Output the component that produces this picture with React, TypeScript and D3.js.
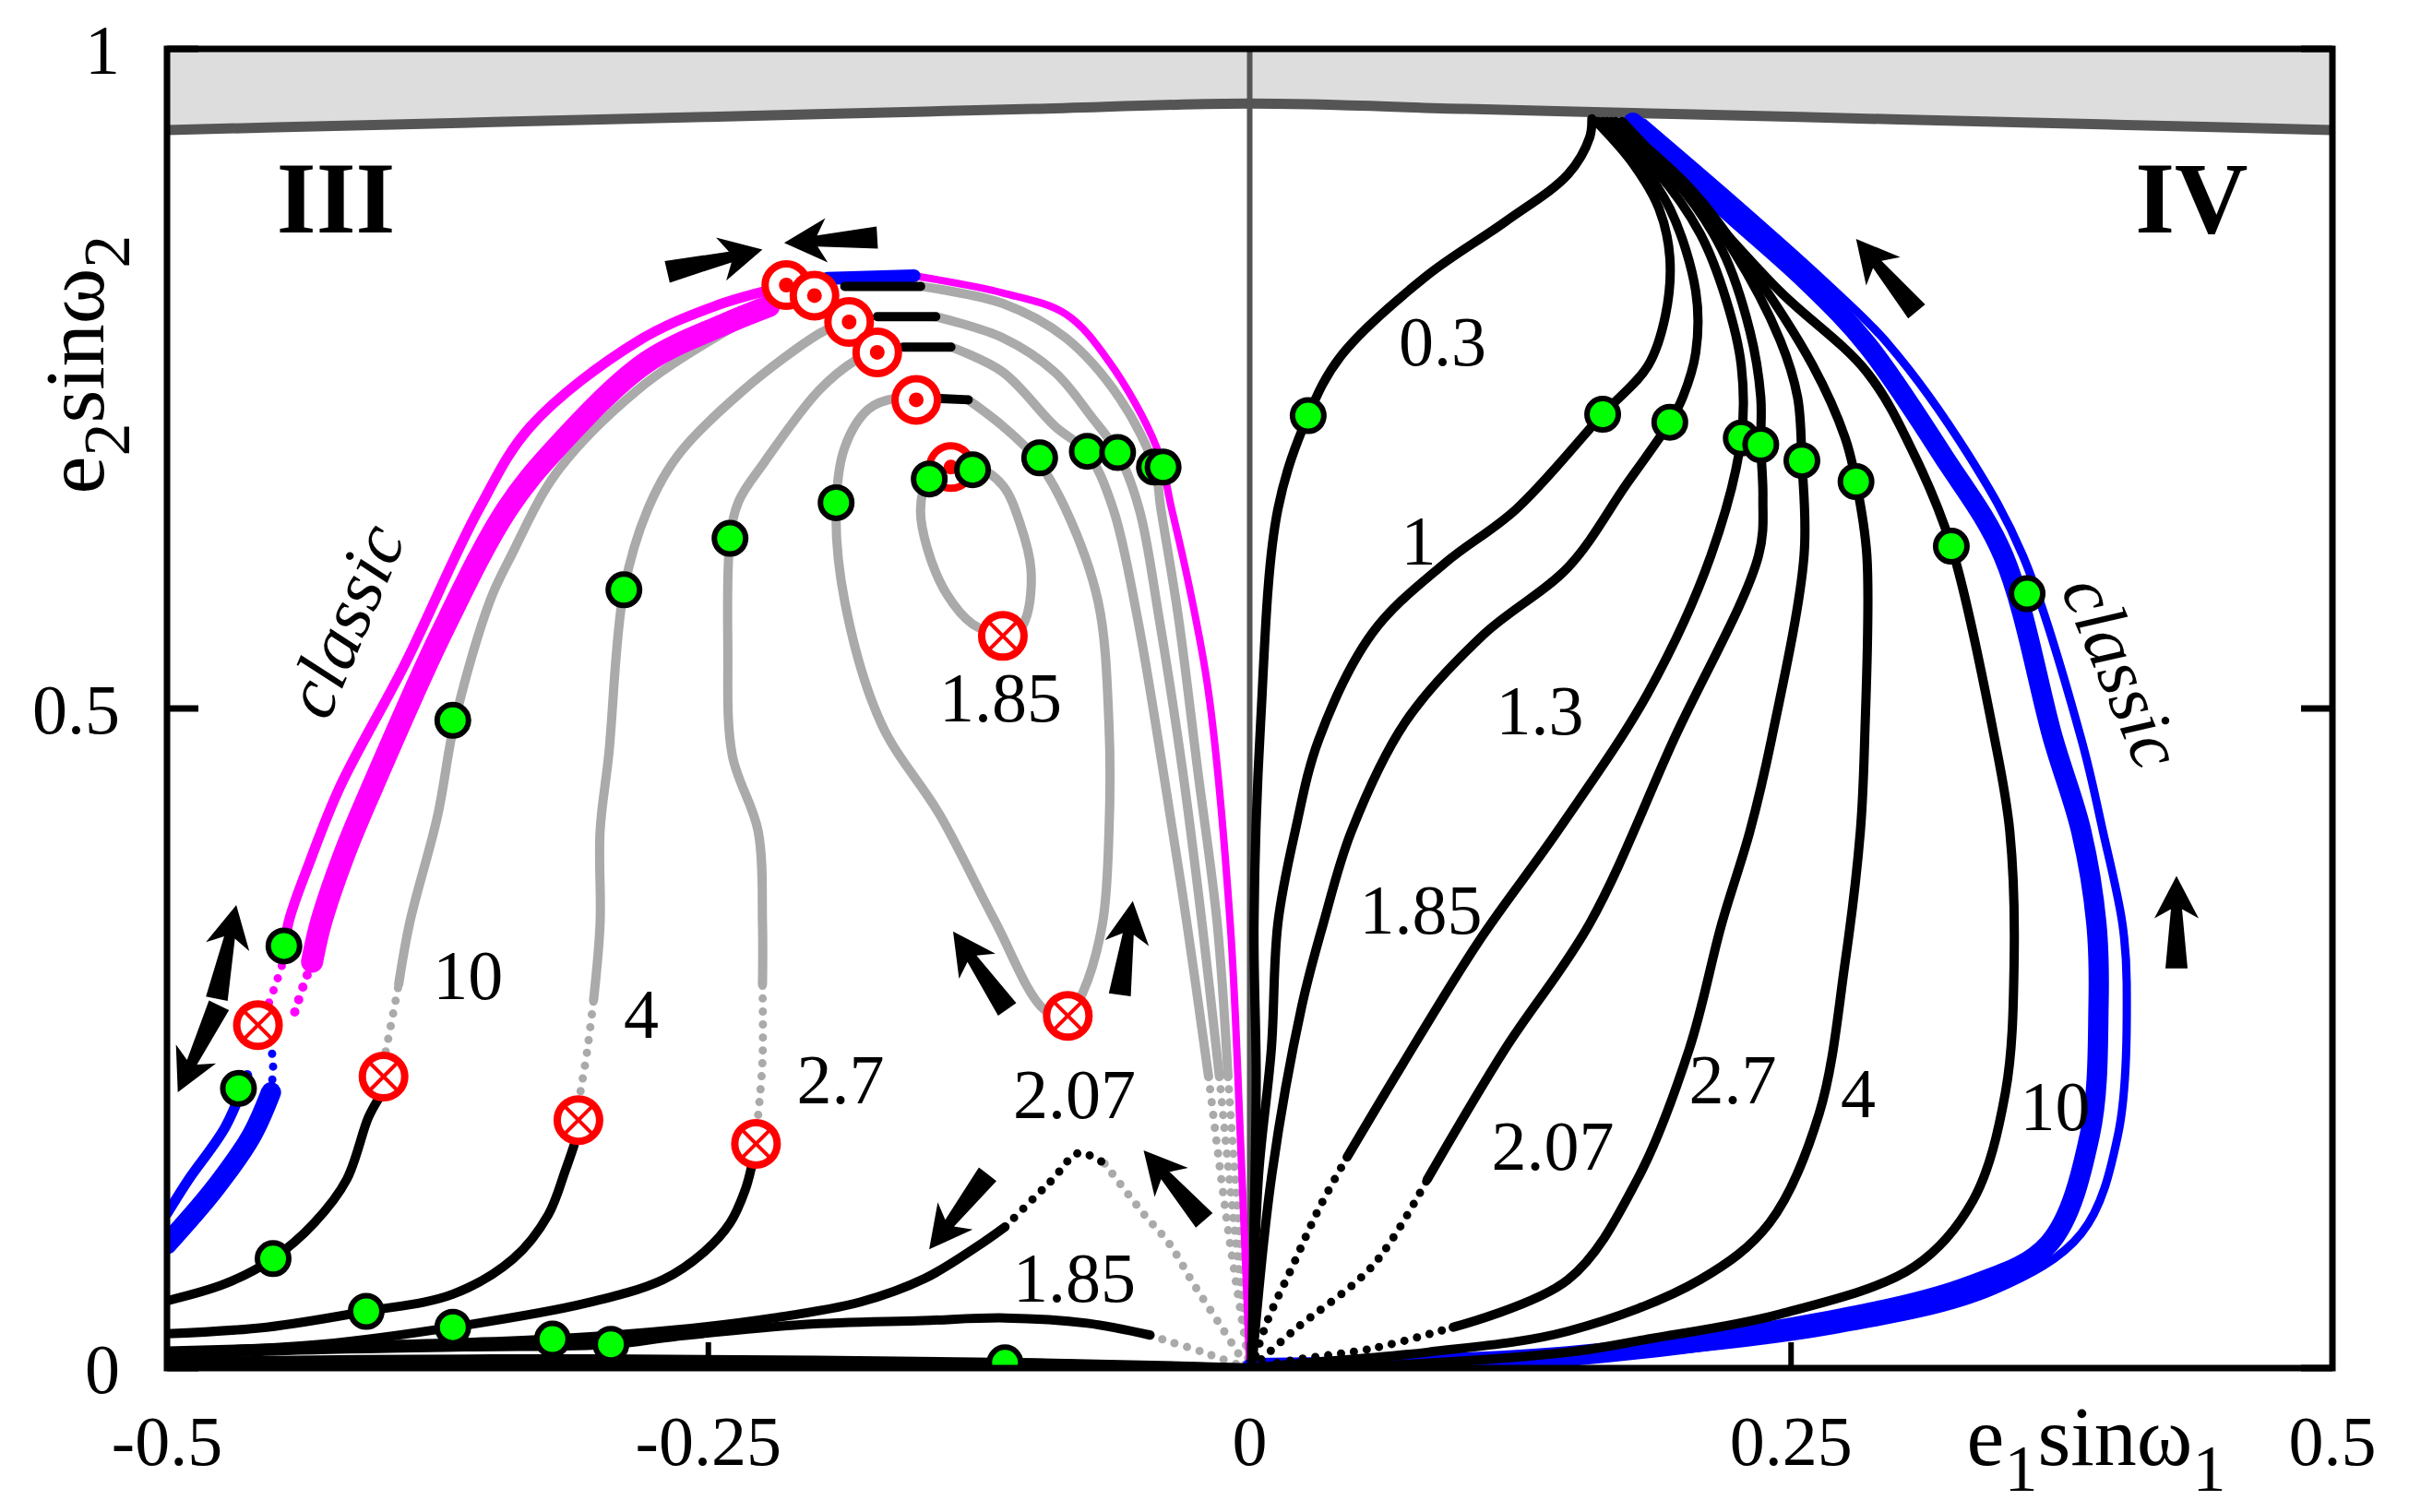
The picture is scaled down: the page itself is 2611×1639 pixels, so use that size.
import React from "react";
import * as d3 from "d3";

type Pt = [number, number];

// axes
const xTicks = [-0.5, -0.25, 0, 0.25, 0.5];
const xTickText = ["-0.5", "-0.25", "0", "0.25", "0.5"];
const yTicks = [0, 0.5, 1];
const yTickText = ["0", "0.5", "1"];

// upper limit of the domain (shaded above)
const boundary: Pt[] = [[-0.5, 0.9385], [-0.4, 0.9425], [-0.3, 0.9465], [-0.2, 0.9505], [-0.1, 0.9545], [0, 0.9585], [0.1, 0.9545], [0.2, 0.9505], [0.3, 0.9465], [0.4, 0.9425], [0.5, 0.9385]];

// ---- quadrant IV, black curves
const r03: Pt[] = [[0.001, 0], [0.002, 0.105], [0.003, 0.221], [0.002, 0.337], [0.005, 0.488], [0.013, 0.651], [0.027, 0.722], [0.042, 0.767], [0.081, 0.827], [0.118, 0.869], [0.147, 0.905], [0.157, 0.933], [0.158, 0.947]];
const r1: Pt[] = [[0.001, 0], [0.004, 0.144], [0.010, 0.242], [0.013, 0.337], [0.021, 0.407], [0.032, 0.477], [0.057, 0.558], [0.090, 0.610], [0.123, 0.651], [0.163, 0.723], [0.184, 0.760], [0.192, 0.798], [0.194, 0.842], [0.189, 0.879], [0.177, 0.913], [0.160, 0.945]];
const r13: Pt[] = [[0.001, 0], [0.010, 0.144], [0.024, 0.274], [0.034, 0.337], [0.047, 0.407], [0.072, 0.490], [0.108, 0.556], [0.147, 0.607], [0.174, 0.670], [0.194, 0.717], [0.200, 0.736], [0.206, 0.770], [0.206, 0.816], [0.194, 0.879], [0.176, 0.922], [0.161, 0.945]];
const r185: Pt[] = [[0.045, 0.160], [0.069, 0.226], [0.106, 0.324], [0.143, 0.409], [0.184, 0.512], [0.213, 0.616], [0.227, 0.705], [0.227, 0.760], [0.220, 0.810], [0.208, 0.860], [0.188, 0.907], [0.163, 0.945]];
const r185dots: Pt[] = [[0.001, 0], [0.008, 0.035], [0.020, 0.078], [0.032, 0.121], [0.045, 0.160]];
const r207: Pt[] = [[0.082, 0.143], [0.118, 0.242], [0.157, 0.337], [0.196, 0.477], [0.235, 0.616], [0.237, 0.660], [0.236, 0.700], [0.236, 0.736], [0.231, 0.786], [0.218, 0.848], [0.196, 0.901], [0.165, 0.945]];
const r207dots: Pt[] = [[0.001, 0], [0.020, 0.028], [0.057, 0.078], [0.082, 0.143]];
const r27: Pt[] = [[0.094, 0.031], [0.147, 0.067], [0.179, 0.143], [0.203, 0.242], [0.218, 0.337], [0.231, 0.407], [0.241, 0.477], [0.256, 0.616], [0.255, 0.688], [0.253, 0.736], [0.245, 0.779], [0.223, 0.848], [0.199, 0.901], [0.167, 0.945]];
const r27dots: Pt[] = [[0.001, 0], [0.020, 0.006], [0.057, 0.015], [0.094, 0.031]];
const r4: Pt[] = [[0.001, 0], [0.020, 0.003], [0.082, 0.012], [0.147, 0.028], [0.208, 0.067], [0.240, 0.110], [0.263, 0.193], [0.275, 0.308], [0.282, 0.407], [0.284, 0.477], [0.285, 0.616], [0.280, 0.672], [0.275, 0.705], [0.260, 0.760], [0.228, 0.842], [0.203, 0.895], [0.169, 0.945]];
const r10: Pt[] = [[0.001, 0], [0.061, 0.002], [0.147, 0.012], [0.184, 0.022], [0.245, 0.041], [0.307, 0.077], [0.334, 0.127], [0.349, 0.209], [0.353, 0.308], [0.351, 0.407], [0.344, 0.477], [0.324, 0.623], [0.307, 0.692], [0.285, 0.755], [0.245, 0.816], [0.210, 0.878], [0.172, 0.945]];
// classic, blue band (IV)
const blueInR: Pt[] = [[0.001, 0], [0.061, 0.002], [0.147, 0.009], [0.258, 0.033], [0.332, 0.062], [0.369, 0.094], [0.388, 0.177], [0.392, 0.276], [0.391, 0.337], [0.384, 0.407], [0.371, 0.477], [0.348, 0.616], [0.320, 0.692], [0.285, 0.776], [0.258, 0.823], [0.220, 0.879], [0.177, 0.944]];
const blueOutR: Pt[] = [[0.001, 0], [0.147, 0.007], [0.270, 0.029], [0.344, 0.059], [0.384, 0.102], [0.401, 0.177], [0.405, 0.292], [0.403, 0.337], [0.394, 0.407], [0.384, 0.477], [0.357, 0.616], [0.332, 0.692], [0.295, 0.776], [0.266, 0.823], [0.228, 0.879], [0.182, 0.944]];

// ---- quadrant III
const g10: Pt[] = [[-0.393, 0.291], [-0.388, 0.337], [-0.375, 0.419], [-0.367, 0.491], [-0.351, 0.581], [-0.341, 0.616], [-0.320, 0.679], [-0.283, 0.741], [-0.247, 0.781], [-0.218, 0.807]];
const g10dots: Pt[] = [[-0.399, 0.240], [-0.396, 0.265], [-0.393, 0.291]];
const b10: Pt[] = [[-0.402, 0.205], [-0.407, 0.190], [-0.417, 0.143], [-0.432, 0.110], [-0.451, 0.083], [-0.473, 0.064], [-0.5, 0.051]];
const g4: Pt[] = [[-0.303, 0.279], [-0.300, 0.337], [-0.300, 0.407], [-0.296, 0.465], [-0.289, 0.590], [-0.278, 0.651], [-0.264, 0.692], [-0.234, 0.741], [-0.199, 0.784], [-0.190, 0.791]];
const g4dots: Pt[] = [[-0.309, 0.210], [-0.306, 0.240], [-0.303, 0.279]];
const b4: Pt[] = [[-0.312, 0.169], [-0.316, 0.150], [-0.324, 0.116], [-0.340, 0.083], [-0.368, 0.056], [-0.408, 0.043], [-0.454, 0.031], [-0.5, 0.026]];
const g27: Pt[] = [[-0.225, 0.291], [-0.225, 0.337], [-0.227, 0.407], [-0.239, 0.465], [-0.241, 0.547], [-0.240, 0.628], [-0.236, 0.657], [-0.224, 0.687], [-0.199, 0.741], [-0.182, 0.764], [-0.175, 0.769]];
const g27dots: Pt[] = [[-0.227, 0.192], [-0.225, 0.233], [-0.225, 0.291]];
const b27: Pt[] = [[-0.230, 0.153], [-0.233, 0.135], [-0.240, 0.110], [-0.252, 0.088], [-0.271, 0.067], [-0.307, 0.049], [-0.368, 0.031], [-0.429, 0.018], [-0.5, 0.012]];
const b207seg: Pt[] = [[-0.143, 0.735], [-0.130, 0.734]];
const g207: Pt[] = [[-0.130, 0.734], [-0.114, 0.714], [-0.099, 0.690], [-0.085, 0.651], [-0.070, 0.581], [-0.065, 0.488], [-0.065, 0.406], [-0.068, 0.337], [-0.077, 0.285], [-0.084, 0.267], [-0.095, 0.272], [-0.118, 0.340], [-0.143, 0.419], [-0.170, 0.488], [-0.187, 0.581], [-0.191, 0.651], [-0.187, 0.698], [-0.176, 0.727], [-0.164, 0.735], [-0.154, 0.734]];
const g185loop: Pt[] = [[-0.114, 0.555], [-0.128, 0.564], [-0.140, 0.587], [-0.149, 0.622], [-0.152, 0.651], [-0.149, 0.672], [-0.138, 0.684], [-0.126, 0.683], [-0.114, 0.669], [-0.106, 0.640], [-0.101, 0.605], [-0.103, 0.570], [-0.108, 0.556], [-0.114, 0.555]];
const bA: Pt[] = [[-0.187, 0.820], [-0.152, 0.820]];
const gA: Pt[] = [[-0.152, 0.820], [-0.114, 0.807], [-0.085, 0.781], [-0.060, 0.735], [-0.044, 0.683], [-0.041, 0.651], [-0.033, 0.570], [-0.024, 0.453], [-0.015, 0.337], [-0.010, 0.221]];
const gAdots: Pt[] = [[-0.010, 0.221], [-0.005, 0.105], [0, 0]];
const bB: Pt[] = [[-0.172, 0.797], [-0.145, 0.797]];
const gB: Pt[] = [[-0.145, 0.797], [-0.114, 0.781], [-0.090, 0.755], [-0.073, 0.721], [-0.061, 0.694], [-0.051, 0.651], [-0.042, 0.570], [-0.031, 0.453], [-0.022, 0.337], [-0.014, 0.221]];
const gBdots: Pt[] = [[-0.014, 0.221], [-0.007, 0.105], [0, 0]];
const bC: Pt[] = [[-0.160, 0.774], [-0.138, 0.774]];
const gC: Pt[] = [[-0.138, 0.774], [-0.114, 0.755], [-0.090, 0.714], [-0.075, 0.694], [-0.063, 0.651], [-0.052, 0.570], [-0.040, 0.453], [-0.029, 0.337], [-0.019, 0.221]];
const gCdots: Pt[] = [[-0.019, 0.221], [-0.010, 0.105], [0, 0]];
const b207low: Pt[] = [[-0.5, 0.013], [-0.434, 0.016], [-0.322, 0.022], [-0.265, 0.029], [-0.220, 0.038], [-0.180, 0.050], [-0.150, 0.068], [-0.126, 0.092], [-0.113, 0.107]];
const b207dots: Pt[] = [[-0.113, 0.107], [-0.099, 0.130], [-0.091, 0.143], [-0.079, 0.163], [-0.067, 0.155]];
const g207dots: Pt[] = [[-0.067, 0.155], [-0.049, 0.117], [-0.037, 0.094], [-0.026, 0.064], [-0.013, 0.031], [-0.001, 0]];
const b185low: Pt[] = [[-0.5, 0.009], [-0.450, 0.013], [-0.363, 0.016], [-0.295, 0.018], [-0.265, 0.024], [-0.206, 0.033], [-0.151, 0.036], [-0.113, 0.038], [-0.075, 0.034], [-0.046, 0.025]];
const g185dots: Pt[] = [[-0.046, 0.025], [-0.037, 0.020], [-0.025, 0.014], [-0.018, 0.010], [-0.001, 0]];
const bot1: Pt[] = [[-0.5, 0.005], [-0.35, 0.007], [-0.2, 0.006], [-0.1, 0.004], [-0.04, 0.002], [0, 0]];
const bot2: Pt[] = [[-0.5, 0.001], [-0.3, 0.002], [-0.2, 0.003], [-0.113, 0.004], [-0.06, 0.002], [0, 0]];
const botGray: Pt[] = [[-0.092, 0.002], [-0.071, 0.002]];
// classic (III): magenta band, blue ends
const mgOutL: Pt[] = [[-0.446, 0.310], [-0.444, 0.337], [-0.434, 0.384], [-0.420, 0.441], [-0.390, 0.534], [-0.356, 0.651], [-0.332, 0.714], [-0.283, 0.778], [-0.247, 0.805], [-0.222, 0.817]];
const mgOutLdots: Pt[] = [[-0.455, 0.268], [-0.450, 0.290], [-0.446, 0.310]];
const mgInL: Pt[] = [[-0.433, 0.308], [-0.429, 0.337], [-0.418, 0.390], [-0.405, 0.441], [-0.373, 0.558], [-0.343, 0.651], [-0.320, 0.698], [-0.279, 0.762], [-0.243, 0.791], [-0.222, 0.805]];
const mgInLdots: Pt[] = [[-0.441, 0.270], [-0.437, 0.290], [-0.433, 0.308]];
const mgR: Pt[] = [[-0.155, 0.828], [-0.114, 0.815], [-0.085, 0.799], [-0.065, 0.763], [-0.043, 0.698], [-0.036, 0.651], [-0.028, 0.593], [-0.019, 0.512], [-0.009, 0.337], [-0.004, 0.163], [0, 0]];
const blueTop: Pt[] = [[-0.195, 0.826], [-0.155, 0.828]];
const blueOutL: Pt[] = [[-0.5, 0.117], [-0.490, 0.143], [-0.473, 0.183], [-0.463, 0.222]];
const blueInL: Pt[] = [[-0.5, 0.094], [-0.478, 0.136], [-0.461, 0.176], [-0.452, 0.209]];
const blueLdots: Pt[] = [[-0.452, 0.209], [-0.451, 0.229], [-0.452, 0.245]];

// markers
const greenPts: Pt[] = [
  [-0.446, 0.320], [-0.467, 0.212], [-0.368, 0.491], [-0.289, 0.590], [-0.240, 0.629], [-0.191, 0.656],
  [-0.148, 0.674], [-0.128, 0.681], [-0.097, 0.690], [-0.075, 0.695], [-0.061, 0.694], [-0.044, 0.683], [-0.040, 0.683],
  [-0.451, 0.083], [-0.408, 0.043], [-0.368, 0.031], [-0.322, 0.022], [-0.295, 0.018], [-0.113, 0.004],
  [0.027, 0.722], [0.163, 0.723], [0.194, 0.717], [0.227, 0.705], [0.236, 0.700], [0.255, 0.688], [0.280, 0.672], [0.324, 0.623], [0.359, 0.587],
];
const bullseyePts: Pt[] = [[-0.214, 0.821], [-0.201, 0.813], [-0.185, 0.793], [-0.172, 0.770], [-0.154, 0.734], [-0.138, 0.683]];
const crossPts: Pt[] = [[-0.458, 0.260], [-0.400, 0.221], [-0.310, 0.188], [-0.228, 0.170], [-0.114, 0.555], [-0.084, 0.267]];

// arrows: [tail, head]
const arrows: [Pt, Pt][] = [
  [[-0.269, 0.831], [-0.225, 0.848]],
  [[-0.172, 0.857], [-0.215, 0.853]],
  [[0.308, 0.801], [0.280, 0.856]],
  [[0.428, 0.303], [0.428, 0.373]],
  [[-0.477, 0.280], [-0.468, 0.351]],
  [[-0.476, 0.275], [-0.495, 0.209]],
  [[-0.112, 0.272], [-0.137, 0.331]],
  [[-0.060, 0.283], [-0.054, 0.354]],
  [[-0.121, 0.147], [-0.148, 0.090]],
  [[-0.021, 0.112], [-0.049, 0.165]],
];

// curve parameter labels
const labelText = ["0.3", "1", "1.3", "1.85", "2.07", "2.7", "4", "10", "10", "4", "2.7", "2.07", "1.85", "1.85"];
const labelPos: Pt[] = [[0.089, 0.779], [0.078, 0.628], [0.134, 0.499], [0.079, 0.348], [0.140, 0.169], [0.223, 0.219], [0.281, 0.209], [0.372, 0.199], [-0.361, 0.298], [-0.281, 0.269], [-0.189, 0.219], [-0.081, 0.208], [-0.081, 0.069], [-0.115, 0.509]];

const W = 2611;
const H = 1639;
const x = d3.scaleLinear().domain([-0.5, 0.5]).range([181, 2528]);
const y = d3.scaleLinear().domain([0, 1]).range([1483, 53]);
const line = d3.line<Pt>().x(d => x(d[0])).y(d => y(d[1])).curve(d3.curveCatmullRom.alpha(0.5));
const band = d3.area<Pt>().x(d => x(d[0])).y0(y(1)).y1(d => y(d[1])).curve(d3.curveMonotoneX);
const bline = d3.line<Pt>().x(d => x(d[0])).y(d => y(d[1])).curve(d3.curveMonotoneX);

const GRAY = "#aaaaaa";
const MAG = "#ff00ff";
const BLUE = "#0000ff";
const FONT = "'Liberation Serif', 'Times New Roman', serif";

type Curve = { pts: Pt[]; color: string; w: number; dot?: boolean };
const curves: Curve[] = [
  // grey parts in III
  { pts: g10, color: GRAY, w: 10 }, { pts: g10dots, color: GRAY, w: 9, dot: true },
  { pts: g4, color: GRAY, w: 10 }, { pts: g4dots, color: GRAY, w: 9, dot: true },
  { pts: g27, color: GRAY, w: 10 }, { pts: g27dots, color: GRAY, w: 9, dot: true },
  { pts: g207, color: GRAY, w: 10 }, { pts: g185loop, color: GRAY, w: 10 },
  { pts: gA, color: GRAY, w: 10 }, { pts: gAdots, color: GRAY, w: 9, dot: true },
  { pts: gB, color: GRAY, w: 10 }, { pts: gBdots, color: GRAY, w: 9, dot: true },
  { pts: gC, color: GRAY, w: 10 }, { pts: gCdots, color: GRAY, w: 9, dot: true },
  { pts: g207dots, color: GRAY, w: 9, dot: true }, { pts: g185dots, color: GRAY, w: 9, dot: true },
  { pts: botGray, color: GRAY, w: 10 },
  // classic bands
  { pts: mgOutL, color: MAG, w: 11 }, { pts: mgOutLdots, color: MAG, w: 9, dot: true },
  { pts: mgInL, color: MAG, w: 24 }, { pts: mgInLdots, color: MAG, w: 10, dot: true },
  { pts: mgR, color: MAG, w: 8 },
  { pts: blueTop, color: BLUE, w: 14 },
  { pts: blueOutL, color: BLUE, w: 11 }, { pts: blueInL, color: BLUE, w: 22 },
  { pts: blueLdots, color: BLUE, w: 9, dot: true },
  { pts: blueOutR, color: BLUE, w: 9 }, { pts: blueInR, color: BLUE, w: 22 },
  // black parts
  { pts: b10, color: "#000", w: 10 }, { pts: b4, color: "#000", w: 10 }, { pts: b27, color: "#000", w: 10 },
  { pts: b207seg, color: "#000", w: 10 }, { pts: bA, color: "#000", w: 10 }, { pts: bB, color: "#000", w: 10 }, { pts: bC, color: "#000", w: 10 },
  { pts: b207low, color: "#000", w: 10 }, { pts: b207dots, color: "#000", w: 9, dot: true },
  { pts: b185low, color: "#000", w: 10 },
  { pts: bot1, color: "#000", w: 10 }, { pts: bot2, color: "#000", w: 10 },
  { pts: r03, color: "#000", w: 10 }, { pts: r1, color: "#000", w: 10 }, { pts: r13, color: "#000", w: 10 },
  { pts: r185, color: "#000", w: 10 }, { pts: r185dots, color: "#000", w: 9, dot: true },
  { pts: r207, color: "#000", w: 10 }, { pts: r207dots, color: "#000", w: 9, dot: true },
  { pts: r27, color: "#000", w: 10 }, { pts: r27dots, color: "#000", w: 9, dot: true },
  { pts: r4, color: "#000", w: 10 }, { pts: r10, color: "#000", w: 10 },
];

function arrowPath(tail: Pt, head: Pt) {
  const tx = x(tail[0]), ty = y(tail[1]), hx = x(head[0]), hy = y(head[1]);
  const L = Math.hypot(hx - tx, hy - ty);
  const ux = (hx - tx) / L, uy = (hy - ty) / L;
  const nx = -uy, ny = ux;
  const p = (a: number, b: number) => [hx - a * ux + b * nx, hy - a * uy + b * ny];
  const pts = [p(0, 0), p(46, 24), p(36, 6), [tx + 12 * nx, ty + 12 * ny], [tx - 12 * nx, ty - 12 * ny], p(36, -6), p(46, -24)];
  return "M" + pts.map(q => q[0].toFixed(1) + "," + q[1].toFixed(1)).join("L") + "Z";
}

export default function App() {
  const x0 = x(-0.5), x1 = x(0.5), y0 = y(0), y1 = y(1);
  return (
    <svg width={W} height={H} style={{ position: "absolute", left: 0, top: 0, display: "block", background: "#fff" }}>
      <defs>
        <clipPath id="plot">
          <rect x={x0} y={y1} width={x1 - x0} height={y0 - y1} />
        </clipPath>
      </defs>
      <g clipPath="url(#plot)">
        <path d={band(boundary) ?? ""} fill="#dddddd" />
        <path d={bline(boundary) ?? ""} fill="none" stroke="#555555" strokeWidth={11} />
        <line x1={x(0)} x2={x(0)} y1={y1} y2={y0} stroke="#555555" strokeWidth={6} />
        {curves.map((c, i) => (
          <path key={i} d={line(c.pts) ?? ""} fill="none" stroke={c.color} strokeWidth={c.w}
            strokeLinecap="round" strokeLinejoin="round" strokeDasharray={c.dot ? "0 14" : undefined} />
        ))}
        {bullseyePts.map((p, i) => (
          <g key={"b" + i}>
            <circle cx={x(p[0])} cy={y(p[1])} r={23} fill="#fff" stroke="#ff0000" strokeWidth={8} />
            <circle cx={x(p[0])} cy={y(p[1])} r={8} fill="#ff0000" />
          </g>
        ))}
        {crossPts.map((p, i) => {
          const cx = x(p[0]), cy = y(p[1]), k = 15;
          return (
            <g key={"c" + i}>
              <circle cx={cx} cy={cy} r={23} fill="#fff" stroke="#ff0000" strokeWidth={8} />
              <line x1={cx - k} y1={cy - k} x2={cx + k} y2={cy + k} stroke="#ff0000" strokeWidth={4} />
              <line x1={cx - k} y1={cy + k} x2={cx + k} y2={cy - k} stroke="#ff0000" strokeWidth={4} />
            </g>
          );
        })}
        {greenPts.map((p, i) => (
          <circle key={"g" + i} cx={x(p[0])} cy={y(p[1])} r={17} fill="#00ff00" stroke="#000" strokeWidth={6} />
        ))}
        {arrows.map((a, i) => (
          <path key={"a" + i} d={arrowPath(a[0], a[1])} fill="#000" />
        ))}
      </g>

      <g fontFamily={FONT} fill="#000">
        {labelText.map((t, i) => (
          <text key={"l" + i} x={x(labelPos[i][0])} y={y(labelPos[i][1])} dy="0.35em" textAnchor="middle" fontSize={76}>{t}</text>
        ))}
        <text x={x(-0.422)} y={y(0.888)} dy="0.35em" textAnchor="middle" fontSize={110} fontWeight="bold">III</text>
        <text x={x(0.435)} y={y(0.888)} dy="0.35em" textAnchor="middle" fontSize={110} fontWeight="bold">IV</text>
        <text transform={`translate(${x(-0.417)},${y(0.566)}) rotate(-67)`} dy="0.3em" textAnchor="middle" fontSize={80} fontStyle="italic">classic</text>
        <text transform={`translate(${x(0.402)},${y(0.527)}) rotate(67)`} dy="0.3em" textAnchor="middle" fontSize={80} fontStyle="italic">classic</text>
      </g>

      {/* frame and ticks */}
      <rect x={x0} y={y1} width={x1 - x0} height={y0 - y1} fill="none" stroke="#000" strokeWidth={7} />
      {yTicks.map(t => (
        <g key={"yt" + t}>
          <line x1={x0} x2={x0 + 34} y1={y(t)} y2={y(t)} stroke="#000" strokeWidth={7} />
          <line x1={x1} x2={x1 - 34} y1={y(t)} y2={y(t)} stroke="#000" strokeWidth={7} />
        </g>
      ))}
      {xTicks.map(t => (
        <line key={"xt" + t} x1={x(t)} x2={x(t)} y1={y0} y2={y0 - 28} stroke="#000" strokeWidth={6} />
      ))}
      <g fontFamily={FONT} fill="#000" fontSize={76}>
        {xTicks.map((t, i) => (
          <text key={"xl" + t} x={x(t)} y={1588} textAnchor="middle">{xTickText[i]}</text>
        ))}
        {yTicks.map((t, i) => (
          <text key={"yl" + t} x={130} y={y(t) + 27} textAnchor="end">{yTickText[i]}</text>
        ))}
      </g>
      <text x={2272} y={1588} textAnchor="middle" fontFamily={FONT} fontSize={92}>
        e<tspan dy={28} fontSize={72}>1</tspan><tspan dy={-28}>sinω</tspan><tspan dy={28} fontSize={72}>1</tspan>
      </text>
      <text transform="translate(112,395) rotate(-90)" textAnchor="middle" fontFamily={FONT} fontSize={92}>
        e<tspan dy={28} fontSize={72}>2</tspan><tspan dy={-28}>sinω</tspan><tspan dy={28} fontSize={72}>2</tspan>
      </text>
    </svg>
  );
}
